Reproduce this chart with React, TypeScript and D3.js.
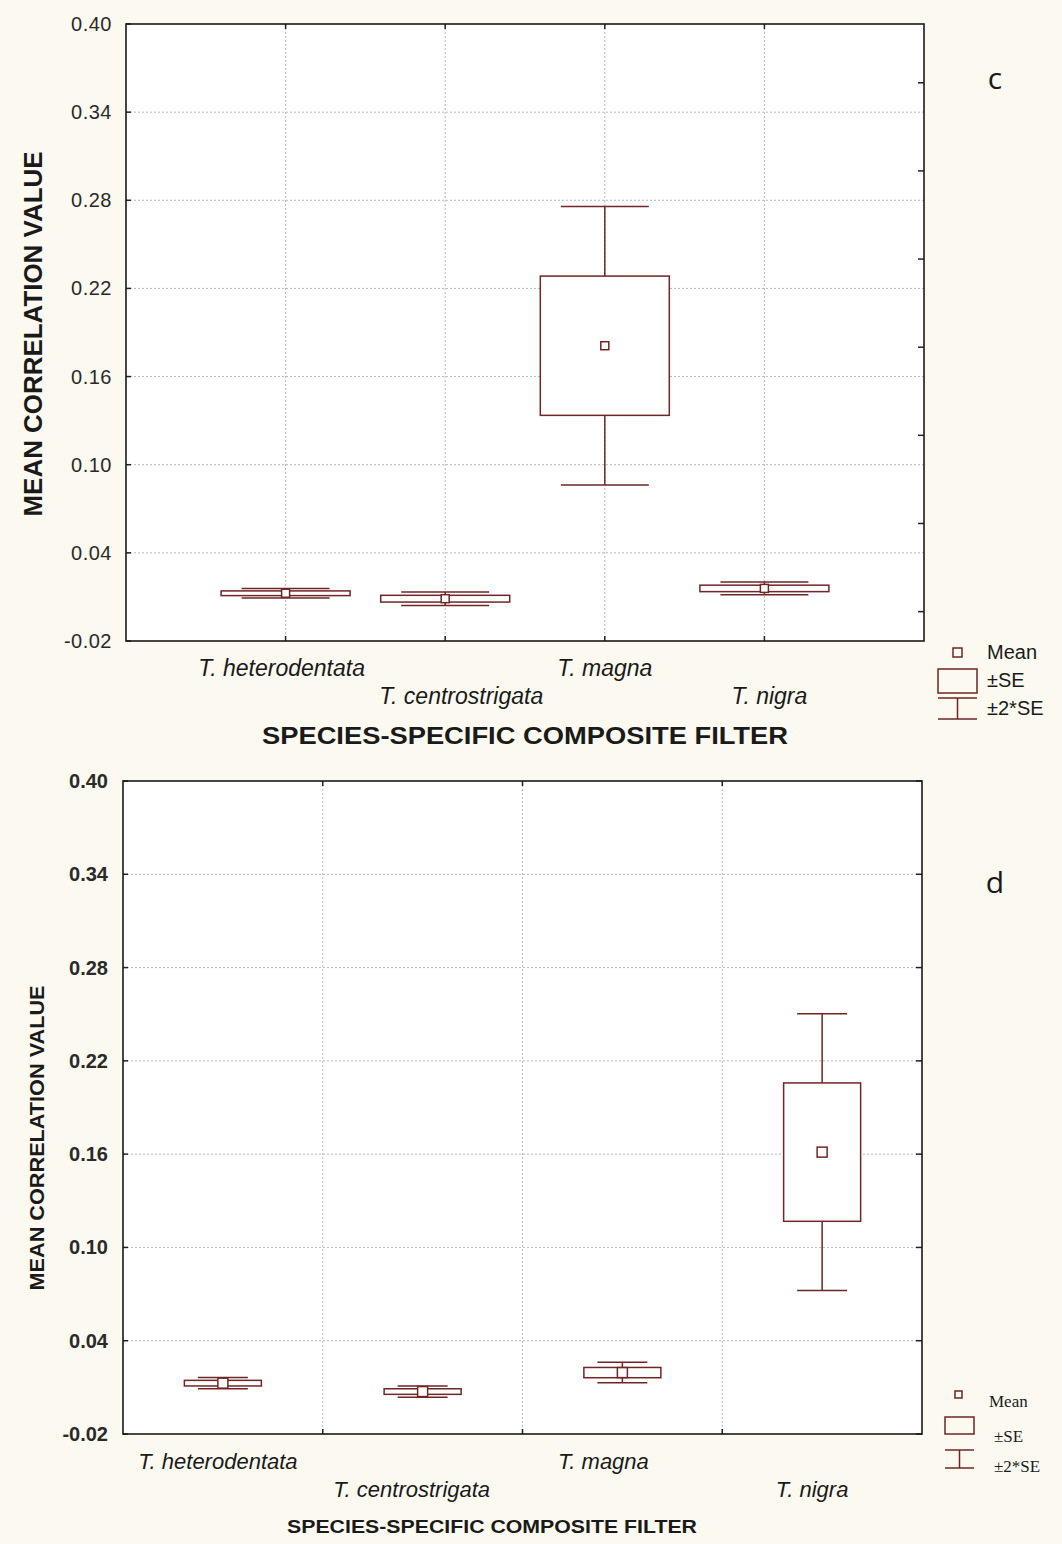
import * as d3 from "d3";

// categories and values
const SPECIES = ["T. heterodentata", "T. centrostrigata", "T. magna", "T. nigra"];
const MEAN_C = [0.0125, 0.0088, 0.181, 0.0158];
const SE_C = [0.0016, 0.0023, 0.0474, 0.0022];
const MEAN_D = [0.0127, 0.0073, 0.0195, 0.1613];
const SE_D = [0.0018, 0.0018, 0.0033, 0.0445];
const Y_TICKS = [-0.02, 0.04, 0.1, 0.16, 0.22, 0.28, 0.34, 0.4];
const RIGHT_TICKS_C = [0.0, 0.06, 0.12, 0.18, 0.24, 0.3, 0.36];
const Y_DOMAIN = [-0.02, 0.4];

const BOX = "#6e2626";
const BG = "#fcf9f0";

function Panel({
  left, right, top, bottom, means, ses, band, boxW, capW, markSize,
  tickFont, tickWeight, tickX, rightTicks,
  yTitle, xTitle, catFont, catShift, rowBase, legend, letter
}) {
  const y = d3.scaleLinear().domain(Y_DOMAIN).range([bottom, top]);
  const xPoint = d3.scalePoint().domain(SPECIES).range([left, right]).padding(1);
  const xBand = d3.scaleBand().domain(SPECIES).range([left, right]);
  const cx = (s) => (band ? xBand(s) + xBand.bandwidth() / 2 : xPoint(s));
  const vGrid = band ? SPECIES.slice(1).map(s => xBand(s)) : SPECIES.map(s => xPoint(s));
  const fmt = d3.format(".2f");

  return (
    <g>
      <rect x={left} y={top} width={right - left} height={bottom - top} fill="#fff" />
      {/* grid */}
      {Y_TICKS.slice(1, -1).map(t => (
        <line key={"h" + t} x1={left} x2={right} y1={y(t)} y2={y(t)}
          stroke="#b8b8b8" strokeDasharray="2,2" />
      ))}
      {vGrid.map((gx, i) => (
        <line key={"v" + i} x1={gx} x2={gx} y1={top} y2={bottom}
          stroke="#b8b8b8" strokeDasharray="2,2" />
      ))}
      {/* inward ticks */}
      {Y_TICKS.map(t => (
        <g key={"t" + t}>
          <line x1={left} x2={left + 5} y1={y(t)} y2={y(t)} stroke="#222" strokeWidth={1.5} />
          {!rightTicks && <line x1={right} x2={right - 6} y1={y(t)} y2={y(t)} stroke="#222" strokeWidth={1.5} />}
          <text x={tickX} y={y(t)} dy="0.35em" textAnchor="end" fontSize={tickFont}
            fontWeight={tickWeight} fill="#2a2a2a" fontFamily="'Liberation Sans', Arial, sans-serif"
            letterSpacing={tickWeight === "bold" ? 0 : 0.5}>
            {t < 0 ? "-" + fmt(-t) : fmt(t)}
          </text>
        </g>
      ))}
      {rightTicks && rightTicks.map(t => (
        <line key={"r" + t} x1={right} x2={right - 6} y1={y(t)} y2={y(t)} stroke="#222" strokeWidth={1.5} />
      ))}
      {vGrid.map((gx, i) => (
        <g key={"xt" + i}>
          <line x1={gx} x2={gx} y1={bottom} y2={bottom - 5} stroke="#222" strokeWidth={1.5} />
          <line x1={gx} x2={gx} y1={top} y2={top + 5} stroke="#222" strokeWidth={1.5} />
        </g>
      ))}
      {/* boxes */}
      {SPECIES.map((s, i) => {
        const m = means[i], se = ses[i], x0 = cx(s);
        return (
          <g key={s} stroke={BOX} strokeWidth={1.5} fill="#fff">
            <line x1={x0} x2={x0} y1={y(m + 2 * se)} y2={y(m - 2 * se)} />
            <line x1={x0 - capW / 2} x2={x0 + capW / 2} y1={y(m + 2 * se)} y2={y(m + 2 * se)} />
            <line x1={x0 - capW / 2} x2={x0 + capW / 2} y1={y(m - 2 * se)} y2={y(m - 2 * se)} />
            <rect x={x0 - boxW / 2} y={y(m + se)} width={boxW} height={Math.max(1, y(m - se) - y(m + se))} />
            <rect x={x0 - markSize / 2} y={y(m) - markSize / 2} width={markSize} height={markSize} />
          </g>
        );
      })}
      <rect x={left} y={top} width={right - left} height={bottom - top} fill="none"
        stroke="#1a1a1a" strokeWidth={1.6} />
      {/* category labels, staggered */}
      {SPECIES.map((s, i) => (
        <text key={"c" + s} x={cx(s) + catShift[i]} y={rowBase[i % 2]} textAnchor="middle"
          fontStyle="italic" fontSize={catFont} fill="#1a1a1a"
          fontFamily="'Liberation Sans', Arial, sans-serif">{s}</text>
      ))}
      {/* axis titles */}
      <text transform={`translate(${yTitle.x},${yTitle.y}) rotate(-90)`} textAnchor="middle"
        fontWeight="bold" fontSize={yTitle.size} fill="#1a1a1a" textLength={yTitle.len}
        lengthAdjust="spacingAndGlyphs" fontFamily="'Liberation Sans', Arial, sans-serif">
        MEAN CORRELATION VALUE
      </text>
      <text x={xTitle.x} y={xTitle.y} textAnchor="middle" fontWeight="bold" fontSize={xTitle.size}
        fill="#1a1a1a" textLength={xTitle.len} lengthAdjust="spacingAndGlyphs"
        fontFamily="'Liberation Sans', Arial, sans-serif">
        SPECIES-SPECIFIC COMPOSITE FILTER
      </text>
      {/* legend */}
      <g stroke={BOX} strokeWidth={1.5} fill="none">
        <rect x={legend.sq[0]} y={legend.sq[1]} width={legend.sq[2]} height={legend.sq[2]} />
        <rect x={legend.box[0]} y={legend.box[1]} width={legend.box[2]} height={legend.box[3]} />
        <line x1={legend.box[0]} x2={legend.box[0] + legend.box[2]} y1={legend.wh[0]} y2={legend.wh[0]} />
        <line x1={legend.box[0]} x2={legend.box[0] + legend.box[2]} y1={legend.wh[1]} y2={legend.wh[1]} />
        <line x1={legend.box[0] + legend.box[2] / 2} x2={legend.box[0] + legend.box[2] / 2}
          y1={legend.wh[0]} y2={legend.wh[1]} />
      </g>
      {["Mean", "±SE", "±2*SE"].map((t, i) => (
        <text key={t} x={legend.tx[i]} y={legend.ty[i]} fontSize={legend.font} fill="#1a1a1a"
          fontFamily={legend.family}>{t}</text>
      ))}
      <text x={letter.x} y={letter.y} textAnchor="middle" fontSize={30} fill="#1a1a1a"
        fontFamily="'Open Sans', 'Noto Sans', sans-serif">{letter.t}</text>
    </g>
  );
}

export default function App() {
  return (
    <div style={{ position: "absolute", left: 0, top: 0 }}>
      <svg width={1062} height={1544} style={{ display: "block" }}>
        <rect width={1062} height={1544} fill={BG} />
        <Panel
          left={126} right={924} top={24} bottom={641}
          means={MEAN_C} ses={SE_C} band={false}
          boxW={129} capW={88} markSize={8}
          tickFont={20} tickWeight="normal" tickX={112} rightTicks={RIGHT_TICKS_C}
          yTitle={{ x: 42, y: 334, size: 25, len: 365 }}
          xTitle={{ x: 525, y: 744, size: 23, len: 526 }}
          catFont={23} catShift={[-4, 16, 0, 5]} rowBase={[676, 704]}
          legend={{
            sq: [953, 648, 9], box: [938, 669, 39, 24], wh: [698, 719],
            tx: [987, 987, 987], ty: [659, 687, 715], font: 20,
            family: "'Liberation Sans', Arial, sans-serif"
          }}
          letter={{ x: 995, y: 89, t: "c" }}
        />
        <Panel
          left={123} right={922} top={781} bottom={1434}
          means={MEAN_D} ses={SE_D} band={true}
          boxW={77} capW={50} markSize={10}
          tickFont={20} tickWeight="bold" tickX={108} rightTicks={null}
          yTitle={{ x: 44, y: 1138, size: 21, len: 305 }}
          xTitle={{ x: 492, y: 1533, size: 19, len: 410 }}
          catFont={22} catShift={[-5, -11, -19, -10]} rowBase={[1469, 1497]}
          legend={{
            sq: [955, 1391, 7], box: [945, 1417, 29, 17], wh: [1450, 1468],
            tx: [989, 994, 994], ty: [1407, 1442, 1472], font: 17,
            family: "'Liberation Serif', 'Times New Roman', serif"
          }}
          letter={{ x: 995, y: 893, t: "d" }}
        />
      </svg>
    </div>
  );
}
